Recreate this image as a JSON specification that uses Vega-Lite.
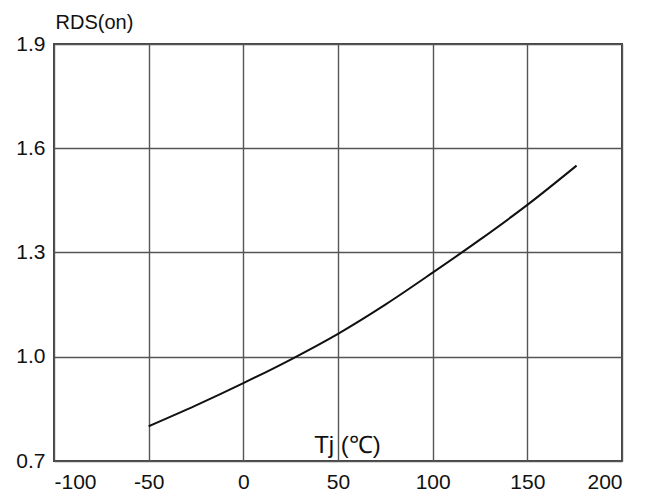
{
  "$schema": "https://vega.github.io/schema/vega-lite/v6.json",
  "autosize": "none",
  "width": 568,
  "height": 417,
  "padding": {"left": 54, "top": 44, "right": 29, "bottom": 37},
  "background": "white",
  "config": {
    "view": {"stroke": "#444", "strokeWidth": 2},
    "axis": {
      "labelFont": "Liberation Sans",
      "labelFontSize": 21,
      "labelColor": "#111",
      "titleFont": "Liberation Sans",
      "titleColor": "#111",
      "titleFontWeight": "normal",
      "grid": true,
      "gridColor": "#555",
      "gridWidth": 1.4,
      "ticks": false,
      "domain": false
    }
  },
  "data": {
    "values": [
      {"t": -50, "r": 0.800},
      {"t": -25, "r": 0.860},
      {"t": 0, "r": 0.924},
      {"t": 25, "r": 0.992},
      {"t": 50, "r": 1.066},
      {"t": 75, "r": 1.150},
      {"t": 100, "r": 1.242},
      {"t": 125, "r": 1.337},
      {"t": 150, "r": 1.437},
      {"t": 176, "r": 1.550}
    ]
  },
  "mark": {"type": "line", "color": "#111", "strokeWidth": 2, "interpolate": "monotone"},
  "encoding": {
    "x": {
      "field": "t",
      "type": "quantitative",
      "scale": {"domain": [-100, 200], "nice": false, "zero": false},
      "axis": {
        "values": [-100, -50, 0, 50, 100, 150, 200],
        "labelExpr": "replace(datum.label, '−', '-')",
        "labelPadding": 10,
        "title": "Tj (℃)",
        "titleFontSize": 24,
        "titleX": 293,
        "titleY": -9,
        "titleAlign": "center",
        "titleBaseline": "alphabetic"
      }
    },
    "y": {
      "field": "r",
      "type": "quantitative",
      "scale": {"domain": [0.7, 1.9], "nice": false, "zero": false},
      "axis": {
        "values": [0.7, 1.0, 1.3, 1.6, 1.9],
        "format": ".1f",
        "labelPadding": 9,
        "title": "RDS(on)",
        "titleFontSize": 20,
        "titleAngle": 0,
        "titleX": 1,
        "titleY": -16,
        "titleAlign": "left",
        "titleBaseline": "alphabetic"
      }
    }
  }
}
